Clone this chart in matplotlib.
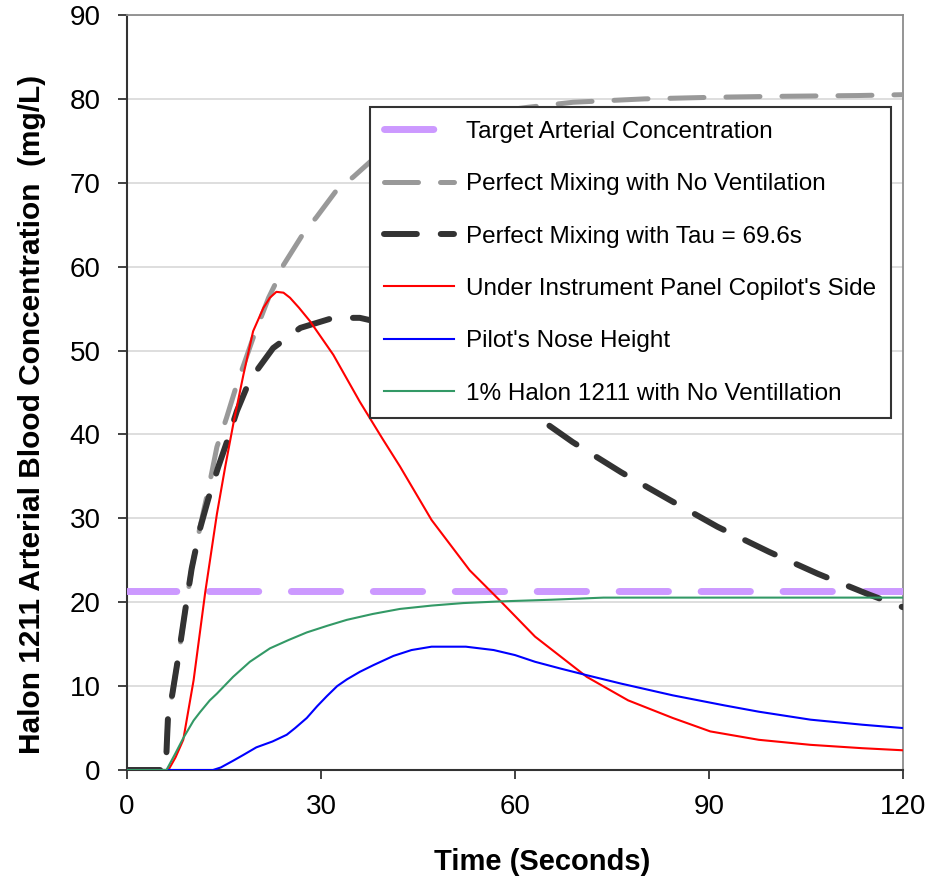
import matplotlib
matplotlib.use("Agg")
import matplotlib.pyplot as plt

plt.rcParams["font.family"] = ["Liberation Sans", "DejaVu Sans"]

# Target arterial concentration (mg/L)
target_level = 21.3
target_t = [0, 120]

# Perfect mixing, no ventilation
nv_t = [0, 6.0, 6.15, 6.35, 7.0, 8.0, 9.0, 10.0, 11.3, 12.6, 13.9, 15.4, 17.0, 19.5,
        21.9, 23.1, 24.2, 27.3, 29.3, 32.4, 35.0, 37.6, 40.0, 45.0, 50.0, 55.0, 62.0,
        69.0, 80.0, 91.0, 100.0, 113.0, 120.0]
nv_c = [0, 0, 3.0, 6.5, 9.0, 13.8, 19.0, 24.0, 29.0, 33.5, 38.5, 42.0, 46.0, 51.5,
        56.3, 58.2, 60.2, 64.0, 65.9, 69.1, 70.7, 72.5, 73.8, 76.0, 77.4, 78.3, 79.0,
        79.6, 80.0, 80.2, 80.3, 80.4, 80.5]

# Perfect mixing, Tau = 69.6 s
tau_t = [0, 6.0, 6.15, 6.35, 7.0, 8.0, 9.0, 10.0, 11.3, 12.6, 14.1, 15.4, 17.0, 19.0,
         22.6, 26.8, 31.9, 36.0, 40.0, 45.0, 50.0, 55.0, 60.0, 64.1, 68.9, 76.4, 83.9,
         91.3, 99.3, 106.8, 114.8, 120.0]
tau_c = [0, 0, 3.0, 6.5, 9.0, 13.8, 19.0, 24.0, 28.8, 32.4, 36.1, 39.0, 42.8, 46.5,
         50.3, 52.7, 53.9, 53.9, 53.2, 51.5, 49.3, 46.8, 44.0, 41.7, 39.1, 35.5, 32.2,
         29.0, 26.0, 23.4, 20.9, 19.4]

# Under instrument panel, copilot's side
cop_t = [0, 6.4, 7.5, 8.7, 10.3, 12.1, 13.9, 15.2, 16.5, 18.0, 19.5, 21.1, 22.1, 23.1,
         24.2, 25.2, 26.6, 28.3, 31.9, 36.0, 39.5, 42.2, 47.1, 53.0, 57.8, 63.1, 71.1,
         77.5, 84.4, 90.2, 97.7, 105.7, 113.7, 120.0]
cop_c = [0, 0, 1.5, 3.6, 10.7, 21.2, 30.5, 36.2, 41.5, 47.1, 52.3, 55.1, 56.3, 57.0,
         56.9, 56.3, 55.1, 53.5, 49.5, 43.9, 39.5, 36.2, 29.8, 23.8, 20.1, 15.9, 11.1,
         8.3, 6.2, 4.6, 3.6, 3.0, 2.6, 2.35]

# Pilot's nose height
nose_t = [0, 13.3, 14.5, 16.4, 18.0, 20.0, 22.5, 24.7, 26.0, 27.8, 29.4, 30.9, 32.5,
          34.0, 36.0, 38.1, 41.2, 44.0, 47.1, 52.4, 56.7, 60.0, 63.1, 67.0, 71.1, 76.4,
          84.4, 92.4, 97.7, 105.7, 113.7, 120.0]
nose_c = [0, 0, 0.3, 1.1, 1.8, 2.7, 3.4, 4.2, 5.0, 6.2, 7.6, 8.8, 10.0, 10.8, 11.7,
          12.5, 13.6, 14.3, 14.7, 14.7, 14.3, 13.7, 12.9, 12.1, 11.3, 10.3, 8.9, 7.7,
          6.95, 6.0, 5.4, 5.0]

# 1% Halon 1211, no ventilation
h1_t = [0, 6.1, 7.5, 8.7, 10.3, 11.3, 12.8, 13.9, 16.4, 19.0, 22.1, 25.0, 27.8, 31.0,
        34.0, 38.0, 42.2, 47.1, 52.0, 57.8, 65.7, 73.7, 90.0, 120.0]
h1_c = [0, 0, 2.0, 3.8, 5.9, 6.9, 8.3, 9.1, 11.1, 12.9, 14.5, 15.5, 16.4, 17.2, 17.9,
        18.6, 19.2, 19.6, 19.9, 20.1, 20.3, 20.55, 20.55, 20.55]

labels = ["Target Arterial Concentration",
          "Perfect Mixing with No Ventilation",
          "Perfect Mixing with Tau = 69.6s",
          "Under Instrument Panel Copilot's Side",
          "Pilot's Nose Height",
          "1% Halon 1211 with No Ventillation"]

x_ticks = [0, 30, 60, 90, 120]
y_ticks = [0, 10, 20, 30, 40, 50, 60, 70, 80, 90]

fig = plt.figure(figsize=(9.31, 8.81), dpi=100)
ax = fig.add_axes([0.13641, 0.12599, 0.83351, 0.85698])

ax.plot(target_t, [target_level, target_level], color="#CC99FF", lw=5.0,
        dashes=(7.1, 4.7), dash_capstyle="round", label=labels[0], zorder=3)
ax.plot(nv_t, nv_c, color="#999999", lw=3.6, dashes=(6.8, 4.4),
        dash_capstyle="round", label=labels[1], zorder=4)
ax.plot(tau_t, tau_c, color="#333333", lw=4.3, dashes=(5.5, 4.0),
        dash_capstyle="round", label=labels[2], zorder=5)
ax.plot(cop_t, cop_c, color="#FF0000", lw=1.5, label=labels[3], zorder=6)
ax.plot(nose_t, nose_c, color="#0000FF", lw=1.5, label=labels[4], zorder=7)
ax.plot(h1_t, h1_c, color="#339966", lw=1.5, label=labels[5], zorder=8)

ax.set_xlim(0, 120)
ax.set_ylim(0, 90)
ax.set_xticks(x_ticks)
ax.set_yticks(y_ticks)
ax.set_axisbelow(True)
ax.yaxis.grid(True, color="#D4D4D4", lw=1.1)

for side in ("left", "bottom"):
    ax.spines[side].set_color("#333333")
    ax.spines[side].set_linewidth(1.5)
for side in ("top", "right"):
    ax.spines[side].set_color("#8C8C8C")
    ax.spines[side].set_linewidth(1.3)

ax.tick_params(axis="both", direction="out", length=6.5, width=1.3,
               color="#333333", labelsize=20, labelcolor="black")
ax.tick_params(axis="y", pad=12.5)
ax.tick_params(axis="x", pad=11)

ax.set_xlabel("Time (Seconds)", fontsize=21, fontweight="bold", va="center")
ax.xaxis.set_label_coords(0.535, -0.122)
ax.set_ylabel("Halon 1211 Arterial Blood Concentration  (mg/L)", fontsize=21.5,
              fontweight="bold", va="center")
ax.yaxis.set_label_coords(-0.1218, 0.4715)

leg = ax.legend(loc="upper left", bbox_to_anchor=(0.3131, 0.0, 0.6714, 0.878),
                mode="expand", borderaxespad=0, fontsize=17.5, handlelength=2.9,
                handletextpad=0.5, labelspacing=1.25, borderpad=0.56,
                fancybox=False, framealpha=1, edgecolor="#333333")
leg.get_frame().set_linewidth(1.5)
leg.set_zorder(10)

fig.savefig("out.png", dpi=100, facecolor="white")
